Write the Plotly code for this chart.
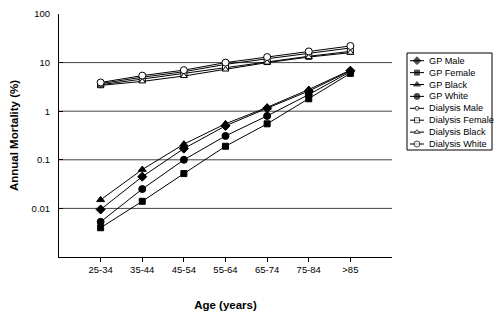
import plotly.graph_objects as go

ages = ["25-34", "35-44", "45-54", "55-64", "65-74", "75-84", ">85"]

gp_male = [0.0095, 0.045, 0.17, 0.50, 1.15, 2.6, 6.8]
gp_female = [0.004, 0.014, 0.052, 0.19, 0.55, 1.8, 6.0]
gp_black = [0.015, 0.063, 0.21, 0.55, 1.2, 2.8, 7.0]
gp_white = [0.0053, 0.025, 0.10, 0.31, 0.8, 2.2, 6.5]
dial_male = [3.7, 5.0, 6.5, 9.2, 12.0, 15.5, 20.0]
dial_female = [3.5, 4.6, 5.9, 8.0, 10.5, 13.5, 17.0]
dial_black = [3.4, 4.1, 5.3, 7.2, 10.0, 13.0, 16.0]
dial_white = [3.9, 5.4, 7.0, 10.0, 13.0, 17.0, 22.0]

series_names = ["GP Male", "GP Female", "GP Black", "GP White",
                "Dialysis Male", "Dialysis Female", "Dialysis Black", "Dialysis White"]
series_values = [gp_male, gp_female, gp_black, gp_white,
                 dial_male, dial_female, dial_black, dial_white]

y_ticks = [0.01, 0.1, 1, 10, 100]
y_ticktext = ["0.01", "0.1", "1", "10", "100"]
grid_vals = [0.01, 0.1, 1, 10]

# marker styles: (symbol, size, fill)
styles = [
    ("diamond", 7, "black"),
    ("square", 6, "black"),
    ("triangle-up", 7, "black"),
    ("circle", 7, "black"),
    ("circle", 5, "white"),
    ("square", 6, "white"),
    ("triangle-up", 6, "white"),
    ("circle", 7, "white"),
]

FONT = "Liberation Sans, Arial, sans-serif"

fig = go.Figure()

for name, vals, (sym, sz, fill) in zip(series_names, series_values, styles):
    fig.add_trace(go.Scatter(
        x=ages, y=vals, name=name, mode="lines+markers",
        line=dict(color="black", width=1),
        marker=dict(symbol=sym, size=sz, color=fill,
                    line=dict(color="black", width=1)),
        showlegend=False, xaxis="x", yaxis="y",
    ))

# custom legend drawn on its own small axes
for i, (name, (sym, sz, fill)) in enumerate(zip(series_names, styles)):
    yy = 7.7 + 11.9 * i
    fig.add_trace(go.Scatter(
        x=[3, 10, 17], y=[yy, yy, yy], mode="lines+markers",
        line=dict(color="black", width=1),
        marker=dict(symbol=sym, size=[0, sz - 1, 0], color=fill,
                    line=dict(color="black", width=1)),
        showlegend=False, xaxis="x2", yaxis="y2", hoverinfo="skip",
    ))
    fig.add_annotation(x=20, y=yy, xref="x2", yref="y2", text=name,
                       showarrow=False, xanchor="left", yanchor="middle",
                       font=dict(family=FONT, size=9.2, color="black"))

fig.add_shape(type="rect", xref="x2 domain", yref="y2 domain",
              x0=0, x1=1, y0=0, y1=1, line=dict(color="black", width=1))

for g in grid_vals:
    fig.add_shape(type="line", xref="x domain", yref="y",
                  x0=0, x1=1, y0=g, y1=g,
                  line=dict(color="#444444", width=1), layer="below")

plot_r = 392
W, H = 500, 322
ml, mr, mt, mb = 59, 5, 14, 65
area_w = W - ml - mr
area_h = H - mt - mb

fig.update_layout(
    width=W, height=H,
    margin=dict(l=ml, r=mr, t=mt, b=mb),
    paper_bgcolor="white", plot_bgcolor="white",
    font=dict(family=FONT, color="black", size=9.5),
    xaxis=dict(
        type="category", categoryorder="array", categoryarray=ages,
        range=[-1, 7], domain=[0, (plot_r - ml) / area_w], anchor="y",
        showline=True, linecolor="black", linewidth=1,
        ticks="outside", ticklen=4, tickcolor="black",
        showgrid=False, zeroline=False,
        tickfont=dict(size=9.5),
        title=dict(text="<b>Age (years)</b>", font=dict(size=11.5), standoff=26),
    ),
    yaxis=dict(
        type="log", range=[-3, 2], anchor="x",
        tickvals=y_ticks, ticktext=y_ticktext,
        showline=True, linecolor="black", linewidth=1,
        ticks="inside", ticklen=4, tickcolor="black",
        showgrid=False, zeroline=False,
        ticklabelstandoff=6,
        tickfont=dict(size=9.5),
        title=dict(text="<b>Annual Mortality (%)</b>", font=dict(size=11.5), standoff=10),
    ),
    xaxis2=dict(domain=[(407 - ml) / area_w, (492 - ml) / area_w],
                range=[0, 85], visible=False, fixedrange=True, anchor="y2"),
    yaxis2=dict(domain=[(H - mb - 150) / area_h, (H - mb - 53) / area_h],
                range=[97, 0], visible=False, fixedrange=True, anchor="x2"),
)

fig.write_html("out.html")
